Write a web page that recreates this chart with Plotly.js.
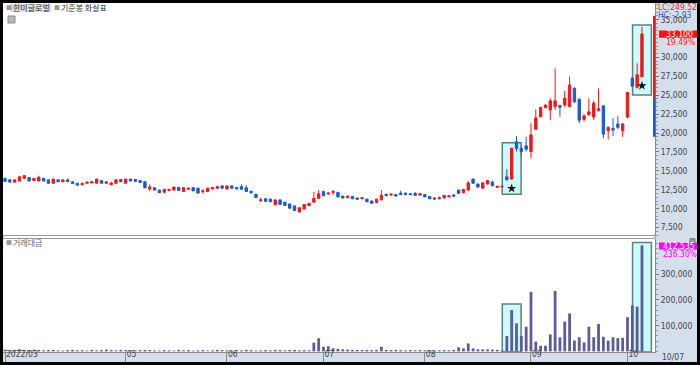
<!DOCTYPE html>
<html><head><meta charset="utf-8">
<script src="https://cdn.plot.ly/plotly-3.0.1.min.js"></script>
<style>
html,body{margin:0;padding:0;background:#000;width:700px;height:365px;overflow:hidden;}
#chart{position:absolute;left:3px;top:3px;width:694px;height:359px;}
</style>
</head><body><div id="chart"></div>
<script>
// ---- data (index = trading day, 2022-03-28 .. 2022-10-07) ----
const openP = [13950,13800,13500,13650,14000,14100,13700,13650,14000,13800,13350,13800,13550,13800,13550,13350,13150,13350,13400,13350,13700,13350,13150,13350,13850,13350,13900,13850,13700,13550,
12600,12750,12450,12150,12400,12450,12800,12250,12550,12750,12700,12250,12250,12600,12700,13000,12600,13000,12800,12900,12750,12300,11900,11050,11300,11250,10500,11150,10850,10600,
10350,9550,9950,10400,10850,11350,12250,11950,12150,12150,11650,11450,11600,11400,11300,11250,11000,10800,11150,11900,11800,11850,12050,12050,11950,12000,11800,11850,11600,11250,
11450,11400,11550,11800,12450,12100,12450,13900,13250,12700,13250,13500,12800,12900,14200,13900,18850,17950,18300,17550,20500,22150,23350,23050,23500,23650,23700,23500,25900,24450,
21800,22450,22100,22950,23600,20300,20600,21200,20300,22100,27250,26050,27450];
const highP = [14150,13850,13850,14250,14450,14150,14050,14350,14050,13850,13950,13850,13850,14000,13600,13400,13400,13550,13600,13950,13750,13600,13450,13850,13900,13950,13950,13900,13750,13600,
13200,12800,12500,12600,12600,12900,12850,12800,12750,12800,12750,12550,12750,12850,12950,13050,13050,13050,12850,13200,13100,12350,11950,11450,11350,11300,11200,11200,10900,10650,
10400,10150,10600,10750,12200,12450,12350,12150,12450,12200,11700,11700,11650,11450,11500,11300,11050,11300,12450,11950,12050,11900,12350,12100,12000,12200,12000,11900,11650,11450,
11600,11800,11750,11850,12500,12600,13650,13950,13300,13450,13800,13700,13000,13000,15200,18000,19600,18400,19500,21300,23150,23450,23750,24600,28550,23700,25600,27450,26100,24600,
22500,24600,24250,25900,23650,20850,21950,22250,21300,25450,27450,29200,34050];
const lowP = [13550,13450,13450,13600,13950,13600,13650,13600,13600,13300,13300,13500,13500,13550,13250,13050,13100,13300,13350,13300,13300,13300,13100,13300,13500,13300,13600,13550,13400,12700,
12300,12400,12050,12100,12350,12400,12350,12200,12500,12300,12000,11950,12200,12550,12650,12650,12550,12650,12550,12500,12200,11950,11400,10850,10900,10850,10450,10500,10350,10000,
9700,9500,9900,10350,10800,11300,11650,11850,11800,11500,11300,11400,11250,11150,11250,10850,10650,10750,11100,11650,11700,11600,11800,11800,11800,11700,11750,11500,11250,11200,
11250,11350,11500,11600,11950,12050,12400,13300,12800,12650,13200,12900,12750,12900,13750,13850,17550,16850,17550,16650,20400,22100,23300,21700,23050,22150,23400,23400,23950,21300,
21500,22250,21700,22900,19300,19150,19600,20500,19500,21950,26100,25900,27450];
const closeP = [13600,13500,13800,14200,14350,13650,14000,14150,13650,13350,13900,13550,13800,13600,13300,13100,13350,13500,13550,13900,13350,13550,13400,13800,13550,13900,13650,13600,13450,12750,
12850,12450,12100,12550,12550,12850,12400,12750,12700,12350,12050,12350,12700,12800,12900,12700,13000,12700,12600,12550,12250,12100,11450,11150,10950,10900,11150,10550,10400,10050,
9750,10100,10550,10700,11350,11950,11700,12050,12250,11550,11400,11650,11300,11250,11450,10900,10700,11250,11750,11700,11900,11650,11850,11850,11850,11750,11950,11550,11300,11400,
11300,11750,11700,11650,12000,12550,13400,13350,12850,13400,13700,13050,12950,12950,13800,18000,17950,17550,17850,19750,22000,23400,23700,24250,24250,23400,24600,26350,24150,21700,
22250,22800,23950,23200,19850,20750,20400,20750,21200,25350,26200,27700,33100];
// 거래대금 (백만원)
const tradeValue = [7000,5000,6000,8000,6000,5000,7000,6000,4000,5000,6000,4000,3000,5000,6000,4000,5000,3000,6000,4000,5000,7000,5000,4000,6000,5000,4000,3000,5000,
6000,5000,4000,3000,5000,4000,3000,6000,4000,5000,3000,4000,5000,3000,4000,6000,5000,4000,3000,5000,4000,6000,5000,3000,4000,5000,4000,6000,5000,4000,5000,6000,4000,5000,4000,
34000,51000,18000,20000,12000,10000,8000,7000,6000,6000,5000,6000,5000,6000,18000,6000,5000,6000,5000,4000,5000,4000,5000,4000,5000,3000,4000,5000,4000,6000,
16000,12000,31000,12000,8000,8000,8000,7000,6000,4000,
60000,161000,109000,60000,96000,232000,38000,22000,22000,66000,235000,55000,116000,148000,42000,55000,35000,96000,55000,107000,57000,42000,55000,52000,53000,133000,179000,174000,412535];
const tickIdx = [0,25,46,66,87,109,129];
const tickText = ['2022/03','05','06','07','08','09','10'];
const lastDate = '10/07';
const priceTicks = [7500,10000,12500,15000,17500,20000,22500,25000,27500,30000,35000]; // 32,500 hidden by the price tag
const valueTicks = [100000,200000,300000];
const refIdx = [105,132];              // 기준봉
const priceBox = [[11900,18720],[25030,34290]];
const valueBoxTop = [184000,423000];
const lastClose = 33100, lastChg = '19.49%';
const lastValue = 412535, valueChg = '236.30%';
const lcText = 'LC:249.52', hcText = 'HC:-2.93';

// ---- styles ----
const RED = '#f01818', BLUE = '#1a5ad8', VOLC = '#5c5c98', PANEL = '#d5dfec';
const N = closeP.length;
const idx = Array.from({length:N},(_,i)=>i);
const PW = 652, PH = 349;             // plot area in div pixels
const px = x => (x-3)/PW;             // page x -> paper
const py = y => (352-y)/PH;           // page y -> paper
const FONT = 'Liberation Sans Narrow, DejaVu Sans Condensed, sans-serif';
const KFONT = 'Noto Sans CJK KR, sans-serif';
const fmt = v => v.toLocaleString('en-US');
const starOff = 1190;

const traces = [
 {type:'candlestick', x:idx, open:openP, high:highP, low:lowP, close:closeP,
  xaxis:'x', yaxis:'y',
  increasing:{line:{color:RED,width:1}, fillcolor:RED},
  decreasing:{line:{color:BLUE,width:1}, fillcolor:BLUE},
  whiskerwidth:0, hoverinfo:'skip', showlegend:false},
 {type:'scatter', mode:'markers', x:refIdx, y:refIdx.map(i=>lowP[i]-starOff),
  marker:{symbol:'star', size:7, color:'#111'}, xaxis:'x', yaxis:'y', hoverinfo:'skip', showlegend:false},
 {type:'bar', x:idx, y:tradeValue, marker:{color:VOLC, line:{width:0}},
  xaxis:'x', yaxis:'y2', hoverinfo:'skip', showlegend:false}
];

const shapes = [];
refIdx.forEach((r,k)=>{
  shapes.push({type:'rect', xref:'x', yref:'y', x0:r-1.95, x1:r+1.95, y0:priceBox[k][0], y1:priceBox[k][1],
    fillcolor:'#cbfbfb', line:{color:'#5f7f7f', width:1.5}, layer:'below'});
  shapes.push({type:'rect', xref:'x', yref:'y2', x0:r-1.95, x1:r+1.95, y0:-2300, y1:valueBoxTop[k],
    fillcolor:'#cbfbfb', line:{color:'#5f7f7f', width:1.5}, layer:'below'});
});
// panel separator
shapes.push({type:'rect', xref:'paper', yref:'paper', x0:0, x1:1, y0:py(238.5), y1:py(235.5), fillcolor:'#ffffff', line:{color:'#9a9a9a', width:1}});
// price range bar at right edge
shapes.push({type:'rect', xref:'paper', yref:'y', x0:px(653), x1:px(655.5), y0:24600, y1:35500, fillcolor:RED, line:{width:0}});
shapes.push({type:'rect', xref:'paper', yref:'y', x0:px(653), x1:px(655.5), y0:19500, y1:24600, fillcolor:BLUE, line:{width:0}});
// price / value tags
shapes.push({type:'rect', xref:'paper', yref:'paper', x0:px(659), x1:px(697), y0:py(37.8), y1:py(30.6), fillcolor:'#ff1010', line:{width:0}});
shapes.push({type:'rect', xref:'paper', yref:'paper', x0:px(659), x1:px(697), y0:py(249.6), y1:py(242.4), fillcolor:'#ff00ff', line:{width:0}});
// small icons
shapes.push({type:'rect', xref:'paper', yref:'paper', x0:px(8), x1:px(15), y0:py(23), y1:py(16), fillcolor:'#b8b8b8', line:{color:'#8a8a8a', width:1}});
shapes.push({type:'rect', xref:'paper', yref:'paper', x0:px(690), x1:px(695), y0:py(243.5), y1:py(238.8), fillcolor:'#a0a0a0', line:{color:'#707070', width:1}});
// highlight behind stock name
shapes.push({type:'rect', xref:'paper', yref:'paper', x0:px(10), x1:px(51), y0:py(12), y1:py(3.5), fillcolor:'#dedede', line:{width:0}, layer:'below'});

const ann = (x,y,text,opt={}) => Object.assign({xref:'paper', yref:'paper', x:px(x), y:py(y), text:text,
  showarrow:false, xanchor:'left', yanchor:'middle', font:{family:FONT, size:8.5, color:'#444'}}, opt);
const annotations = [
 ann(4,8,'■',{font:{family:KFONT,size:6,color:'#999'}}),
 ann(11,8,'한미글로벌',{font:{family:KFONT,size:8,color:'#333'}}),
 ann(52,8,'■',{font:{family:KFONT,size:6,color:'#999'}}),
 ann(59,8,'기준봉 화살표',{font:{family:KFONT,size:8,color:'#333'}}),
 ann(4,243,'■ ',{font:{family:KFONT,size:6,color:'#999'}}),
 ann(11,243,'거래대금',{font:{family:KFONT,size:8,color:'#666'}}),
 ann(656,7.2,lcText,{font:{family:FONT,size:8.5,color:'#ff2020'}}),
 ann(656,15.2,hcText,{font:{family:FONT,size:8.5,color:'#2a62e0'}}),
 ann(664,34.2,fmt(lastClose),{font:{family:FONT,size:8.5,color:'#ffffff'}}),
 ann(664,42.4,lastChg,{font:{family:FONT,size:8.5,color:'#ff2020'}}),
 ann(661,246,fmt(lastValue),{font:{family:FONT,size:8.5,color:'#ffffff'}}),
 ann(661,254,valueChg,{font:{family:FONT,size:8.5,color:'#ff00ff'}}),
 ann(660,357,lastDate,{font:{family:FONT,size:8.5,color:'#444'}})
];

const layout = {
  width:694, height:359,
  margin:{l:0, r:42, t:0, b:10, pad:0},
  paper_bgcolor:PANEL, plot_bgcolor:'#ffffff',
  showlegend:false, bargap:0.42, dragmode:false,
  xaxis:{anchor:'y2', range:[-0.414,134.7], tickmode:'array', tickvals:tickIdx, ticktext:tickText,
    ticks:'outside', ticklen:10, tickcolor:'#8a8a8a', tickwidth:1, ticklabelposition:'outside right',
    ticklabelstandoff:-6,
    tickfont:{family:FONT,size:8.5,color:'#444'}, showgrid:false, zeroline:false,
    showline:true, linecolor:'#8a8a8a', linewidth:1, rangeslider:{visible:false}, fixedrange:true},
  yaxis:{domain:[0.3324,1], range:[6373,37199], side:'right', tickmode:'array', tickvals:priceTicks,
    tickformat:',d', ticks:'outside', ticklen:3, tickcolor:'#777', showgrid:false, zeroline:false,
    showline:true, linecolor:'#8a8a8a', linewidth:1, tickfont:{family:FONT,size:8.5,color:'#444'},
    minor:{dtick:500, ticks:'outside', ticklen:2, tickcolor:'#999', showgrid:false}, fixedrange:true},
  yaxis2:{domain:[0,0.3238], range:[-2300,437000], side:'right', tickmode:'array',
    tickvals:valueTicks, tickformat:',d', ticks:'outside', ticklen:3, tickcolor:'#777',
    showgrid:false, zeroline:false, showline:true, linecolor:'#8a8a8a', linewidth:1,
    tickfont:{family:FONT,size:8.5,color:'#444'},
    minor:{dtick:20000, ticks:'outside', ticklen:2, tickcolor:'#999', showgrid:false}, fixedrange:true},
  shapes:shapes, annotations:annotations
};
Plotly.newPlot('chart', traces, layout, {staticPlot:true, displayModeBar:false});
</script>
</body></html>
